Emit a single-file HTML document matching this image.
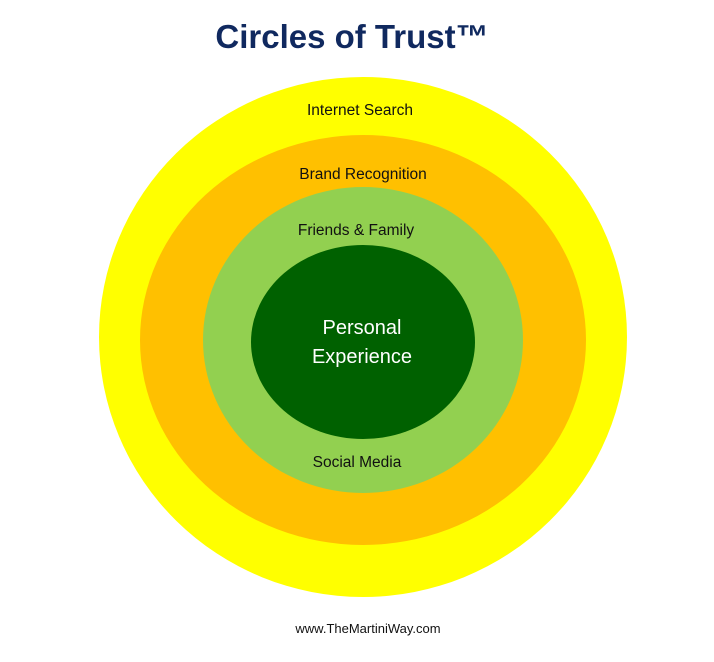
<!DOCTYPE html>
<html><head><meta charset="utf-8"><style>
html,body{margin:0;padding:0;background:#fff;}
body{width:714px;height:657px;overflow:hidden;}
</style></head><body>
<svg width="714" height="657" viewBox="0 0 714 657" xmlns="http://www.w3.org/2000/svg">
<text x="352" y="48" text-anchor="middle" font-family="Liberation Sans, sans-serif" font-weight="bold" font-size="33" fill="#10295f">Circles of Trust™</text>
<ellipse cx="363" cy="337" rx="264" ry="260" fill="#ffff00"/>
<ellipse cx="363" cy="340" rx="223" ry="205" fill="#ffc000"/>
<ellipse cx="363" cy="340" rx="160" ry="153" fill="#92d050"/>
<ellipse cx="363" cy="342" rx="112" ry="97" fill="#006100"/>
<g font-family="Liberation Sans, sans-serif" font-size="15.5" fill="#111" text-anchor="middle">
<text x="360" y="115">Internet Search</text>
<text x="363" y="179">Brand Recognition</text>
<text x="356" y="235">Friends &amp; Family</text>
<text x="357" y="467">Social Media</text>
</g>
<g font-family="Liberation Sans, sans-serif" font-size="20" fill="#fff" text-anchor="middle">
<text x="362" y="334">Personal</text>
<text x="362" y="363">Experience</text>
</g>
<text x="368" y="633" text-anchor="middle" font-family="Liberation Sans, sans-serif" font-size="13" fill="#111">www.TheMartiniWay.com</text>
</svg>
</body></html>
